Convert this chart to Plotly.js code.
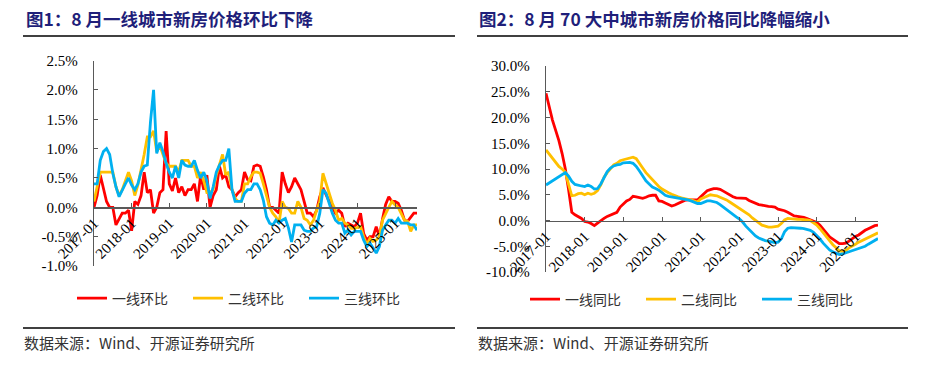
<!DOCTYPE html>
<html>
<head>
<meta charset="utf-8">
<script src="https://cdn.plot.ly/plotly-3.0.1.min.js"></script>
<style>
  html, body { margin: 0; padding: 0; background: #ffffff; }
  #chart { width: 934px; height: 367px; }
</style>
</head>
<body>
<div id="chart"></div>
<script>
// ---------- categories ----------
const months = [];
for (let y = 2017; y <= 2025; y++) {
  for (let m = 1; m <= 12; m++) {
    if (y === 2025 && m > 8) break;
    months.push(y + '-' + (m < 10 ? '0' + m : m));
  }
}
const xTickLabels = ['2017-01','2018-01','2019-01','2020-01','2021-01','2022-01','2023-01','2024-01','2025-01'];

// ---------- Figure 1: month-on-month (%) ----------
const seriesNames1 = ['一线环比', '二线环比', '三线环比'];
const tier1MoM = [0.0,0.2,0.55,0.3,0.1,0.0,0.0,-0.3,-0.2,-0.1,-0.1,-0.05,-0.4,0.1,0.05,0.2,0.6,0.25,0.3,-0.1,
  0.0,0.25,0.3,1.3,0.4,0.28,0.5,0.25,0.35,0.2,0.3,0.3,0.4,0.1,0.55,0.3,0.55,0.0,0.2,0.3,
  0.7,0.5,0.55,0.35,0.3,0.18,0.25,0.3,0.6,0.47,0.45,0.7,0.72,0.7,0.52,0.3,0.0,0.0,-0.05,-0.1,
  0.6,0.4,0.25,0.35,0.5,0.4,0.3,0.1,-0.1,-0.1,-0.16,-0.05,0.18,0.33,0.2,0.1,0.0,-0.1,-0.05,-0.1,
  -0.33,-0.27,-0.3,-0.33,-0.27,-0.1,-0.45,-0.56,-0.5,-0.5,-0.33,-0.5,-0.2,0.05,0.18,0.1,0.1,0.07,-0.05,-0.22,
  -0.24,-0.16,-0.1,-0.1];
const tier2MoM = [0.1,0.35,0.6,0.6,0.6,0.6,0.6,0.35,0.2,0.3,0.45,0.6,0.45,0.2,0.38,0.63,0.9,1.2,1.2,1.3,
  0.95,1.05,0.9,0.75,0.7,0.7,0.7,0.6,0.8,0.8,0.8,0.7,0.7,0.5,0.6,0.45,0.25,0.25,0.3,0.55,
  0.75,0.9,0.55,0.6,0.3,0.15,0.1,0.1,0.4,0.4,0.52,0.6,0.6,0.58,0.4,0.18,0.0,-0.1,-0.16,-0.27,
  0.1,0.0,-0.02,-0.1,-0.1,0.1,0.0,-0.19,-0.22,-0.3,-0.22,-0.05,0.1,0.58,0.41,0.24,0.07,-0.05,-0.22,-0.19,
  -0.27,-0.3,-0.36,-0.36,-0.35,-0.33,-0.5,-0.64,-0.53,-0.58,-0.56,-0.5,-0.22,-0.1,0.0,0.1,0.04,0.0,-0.1,-0.22,
  -0.24,-0.41,-0.3,-0.3];
const tier3MoM = [0.4,0.4,0.8,0.95,1.0,0.9,0.58,0.35,0.18,0.3,0.4,0.5,0.38,0.3,0.4,0.6,0.7,0.72,1.45,2.0,
  0.92,1.1,0.95,0.75,0.6,0.5,0.7,0.5,0.8,0.72,0.7,0.7,0.8,0.63,0.5,0.6,0.45,0.15,0.35,0.6,
  0.72,0.8,0.8,1.0,0.3,0.1,0.1,0.1,0.24,0.3,0.3,0.4,0.4,0.3,0.12,-0.16,-0.27,-0.3,-0.22,-0.27,
  -0.22,-0.19,-0.35,-0.59,-0.3,-0.3,-0.3,-0.39,-0.41,-0.41,-0.35,-0.33,-0.1,0.3,0.24,0.07,-0.1,-0.22,-0.27,-0.27,
  -0.44,-0.39,-0.47,-0.41,-0.41,-0.41,-0.56,-0.67,-0.61,-0.7,-0.78,-0.67,-0.39,-0.3,-0.22,-0.22,-0.27,-0.19,-0.27,-0.27,
  -0.27,-0.3,-0.3,-0.39];
const yTicks1 = [-1.0,-0.5,0.0,0.5,1.0,1.5,2.0,2.5];

// ---------- Figure 2: year-on-year (%) ----------
const seriesNames2 = ['一线同比', '二线同比', '三线同比'];
const tier1YoY = [24.7,22.0,19.5,17.5,15.5,13.0,10.0,6.0,1.6,1.1,0.8,0.4,-0.2,-0.3,-0.6,-1.0,-0.5,0.0,0.4,0.8,
  1.1,1.3,1.6,2.6,3.3,3.8,4.1,4.7,4.6,4.4,4.3,4.5,4.8,4.9,4.9,3.8,3.7,3.4,3.1,2.8,
  3.0,3.3,3.6,3.9,4.0,4.0,4.1,4.0,4.6,5.2,5.8,6.0,6.2,6.2,6.05,5.7,5.3,5.0,4.6,4.4,
  4.4,4.4,4.3,3.9,3.6,3.3,3.1,3.0,2.8,2.75,2.7,2.6,2.2,2.1,1.9,1.6,1.3,0.9,0.8,0.75,
  0.6,0.4,0.1,-0.2,-0.4,-0.9,-1.6,-2.4,-3.2,-3.6,-4.1,-4.5,-4.5,-4.4,-4.0,-3.5,-3.1,-2.8,-2.3,-1.9,
  -1.6,-1.3,-1.0,-0.9];
const tier2YoY = [13.7,12.9,12.0,11.1,10.5,10.0,9.4,7.0,4.8,4.9,5.2,5.3,5.0,5.3,5.1,5.3,5.8,6.9,8.4,9.3,
  10.1,10.8,11.1,11.6,11.8,12.0,12.2,12.3,12.0,11.2,10.2,9.3,8.6,7.9,7.2,6.6,6.1,5.7,5.4,5.1,
  4.8,4.6,4.4,4.2,4.1,4.0,3.8,3.6,4.2,4.5,4.8,5.0,4.9,4.8,4.5,4.3,4.0,3.6,3.2,2.8,
  2.4,2.0,1.6,1.1,0.5,0.0,-0.5,-0.9,-1.1,-1.3,-1.3,-1.2,-1.1,-0.6,0.1,0.4,0.3,0.2,0.2,0.2,
  0.2,0.1,0.0,-0.4,-0.9,-1.6,-2.4,-3.1,-3.9,-4.7,-5.3,-5.9,-6.0,-5.8,-5.3,-5.0,-4.6,-4.2,-3.9,-3.6,
  -3.3,-3.0,-2.6,-2.4];
const tier3YoY = [6.9,7.3,7.8,8.2,8.6,9.0,9.3,8.6,7.6,7.0,6.8,6.7,6.6,6.9,6.6,6.1,6.2,7.1,8.3,9.5,
  10.2,10.6,10.8,10.9,11.2,11.3,11.3,11.1,10.5,9.6,8.6,7.7,7.1,6.5,6.2,5.9,5.4,4.9,4.7,4.6,
  4.5,4.4,4.3,4.2,4.0,3.8,3.5,3.3,3.3,3.6,3.8,3.8,3.7,3.5,3.1,2.6,2.1,1.7,1.2,0.7,
  0.3,-0.3,-1.1,-1.8,-2.5,-3.0,-3.4,-3.7,-3.9,-4.0,-4.2,-4.3,-4.2,-3.6,-2.2,-1.5,-1.4,-1.4,-1.5,-1.5,
  -1.6,-1.7,-1.9,-2.3,-2.9,-3.6,-4.4,-5.1,-5.7,-6.1,-6.4,-6.6,-6.5,-6.3,-6.0,-5.8,-5.6,-5.5,-5.3,-5.0,
  -4.6,-4.2,-3.8,-3.5];
const yTicks2 = [-10,-5,0,5,10,15,20,25,30];

const colors = ['#FF0000', '#FFC000', '#00B0F0'];

// ---------- geometry helpers (page pixels -> paper) ----------
const W = 934, H = 367;
const px = v => v / W;
const py = v => 1 - v / H;

const serif = 'Liberation Serif, Times New Roman, serif';
const cjk = 'Noto Sans CJK SC, sans-serif';

const traces = [];
[tier1MoM, tier2MoM, tier3MoM].forEach((ys, i) => {
  traces.push({x: months, y: ys, name: seriesNames1[i], type: 'scatter', mode: 'lines',
    line: {color: colors[i], width: 2.8}, xaxis: 'x', yaxis: 'y', legend: 'legend'});
});
[tier1YoY, tier2YoY, tier3YoY].forEach((ys, i) => {
  traces.push({x: months, y: ys, name: seriesNames2[i], type: 'scatter', mode: 'lines',
    line: {color: colors[i], width: 2.8}, xaxis: 'x2', yaxis: 'y2', legend: 'legend2'});
});

const L = {x0: 94, x1: 417, yTop: 60.6, yBot: 266, r: [-1, 2.5]};
const R = {x0: 546, x1: 878, yTop: 66, yBot: 272, r: [-10, 30]};
function zeroPos(P) {
  const d0 = py(P.yBot), d1 = py(P.yTop);
  return d0 + (0 - P.r[0]) / (P.r[1] - P.r[0]) * (d1 - d0);
}

const axisCommonX = {
  type: 'category', range: [0, months.length - 1], tickmode: 'array', tickvals: xTickLabels, ticktext: xTickLabels,
  tickangle: -45, ticks: 'inside', ticklen: 4, tickcolor: '#595959', showline: true, linecolor: '#595959', linewidth: 1.3,
  showgrid: false, zeroline: false, tickfont: {family: serif, size: 15, color: '#000'}, anchor: 'free', fixedrange: true
};
const axisCommonY = {
  ticks: 'inside', ticklen: 4, tickcolor: '#595959', showline: true, linecolor: '#595959', linewidth: 1.3,
  showgrid: false, zeroline: false, tickfont: {family: serif, size: 15, color: '#000'}, tickmode: 'array',
  ticklabelstandoff: 12, fixedrange: true
};

const layout = {
  width: W, height: H, margin: {l: 0, r: 0, t: 0, b: 0}, paper_bgcolor: '#fff', plot_bgcolor: 'rgba(0,0,0,0)',
  showlegend: true,
  xaxis: Object.assign({}, axisCommonX, {domain: [px(L.x0), px(L.x1)], position: zeroPos(L)}),
  yaxis: Object.assign({}, axisCommonY, {domain: [py(L.yBot), py(L.yTop)], range: L.r, anchor: 'x',
    tickvals: yTicks1, ticktext: yTicks1.map(v => v.toFixed(1) + '%')}),
  xaxis2: Object.assign({}, axisCommonX, {domain: [px(R.x0), px(R.x1)], position: zeroPos(R)}),
  yaxis2: Object.assign({}, axisCommonY, {domain: [py(R.yBot), py(R.yTop)], range: R.r, anchor: 'x2',
    tickvals: yTicks2, ticktext: yTicks2.map(v => v.toFixed(1) + '%')}),
  legend: {orientation: 'h', x: px(72), y: py(298.5), xanchor: 'left', yanchor: 'middle',
    font: {family: cjk, size: 14, color: '#333'}, entrywidth: 71, bgcolor: 'rgba(0,0,0,0)'},
  legend2: {orientation: 'h', x: px(525), y: py(299.5), xanchor: 'left', yanchor: 'middle',
    font: {family: cjk, size: 14, color: '#333'}, entrywidth: 71, bgcolor: 'rgba(0,0,0,0)'},
  shapes: [
    {type: 'line', xref: 'paper', yref: 'paper', x0: px(23), x1: px(455), y0: py(36), y1: py(36), line: {color: '#000', width: 1.5}},
    {type: 'line', xref: 'paper', yref: 'paper', x0: px(477), x1: px(908), y0: py(36), y1: py(36), line: {color: '#000', width: 1.5}},
    {type: 'line', xref: 'paper', yref: 'paper', x0: px(23), x1: px(455), y0: py(328), y1: py(328), line: {color: '#000', width: 1.5}},
    {type: 'line', xref: 'paper', yref: 'paper', x0: px(477), x1: px(908), y0: py(328), y1: py(328), line: {color: '#000', width: 1.5}}
  ],
  annotations: [
    {text: '图1：8 月一线城市新房价格环比下降', xref: 'paper', yref: 'paper', x: px(24), y: py(19), xanchor: 'left', yanchor: 'middle',
      showarrow: false, font: {family: cjk, size: 17.5, color: '#1F1F7A', weight: 'bold'}},
    {text: '图2：8 月 70 大中城市新房价格同比降幅缩小', xref: 'paper', yref: 'paper', x: px(477), y: py(19), xanchor: 'left', yanchor: 'middle',
      showarrow: false, font: {family: cjk, size: 17.5, color: '#1F1F7A', weight: 'bold'}},
    {text: '数据来源：Wind、开源证券研究所', xref: 'paper', yref: 'paper', x: px(22), y: py(342), xanchor: 'left', yanchor: 'middle',
      showarrow: false, font: {family: cjk, size: 15, color: '#333'}},
    {text: '数据来源：Wind、开源证券研究所', xref: 'paper', yref: 'paper', x: px(476), y: py(342), xanchor: 'left', yanchor: 'middle',
      showarrow: false, font: {family: cjk, size: 15, color: '#333'}}
  ]
};

Plotly.newPlot('chart', traces, layout, {staticPlot: true, displayModeBar: false});
</script>
</body>
</html>
